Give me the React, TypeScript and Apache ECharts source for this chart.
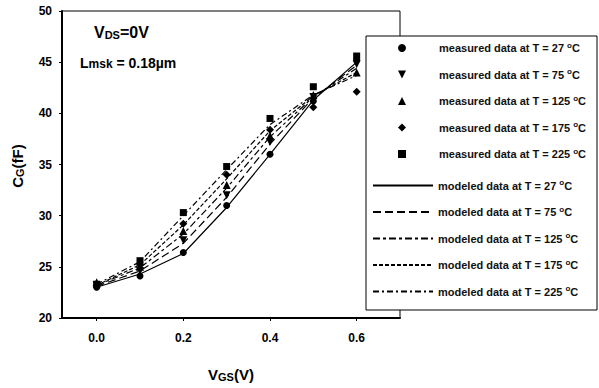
import React, { useEffect, useRef } from "react";
import * as echarts from "echarts";

const vgs = [0.0, 0.1, 0.2, 0.3, 0.4, 0.5, 0.6];
const temps = [27, 75, 125, 175, 225];

const measured27 = [23.0, 24.1, 26.4, 31.0, 36.0, 41.2, 45.2];
const measured75 = [23.2, 24.6, 27.6, 32.0, 37.2, 41.6, 44.8];
const measured125 = [23.5, 25.0, 28.5, 33.0, 37.8, 41.8, 44.0];
const measured175 = [23.2, 25.2, 29.2, 34.0, 38.4, 40.6, 42.1];
const measured225 = [23.3, 25.6, 30.3, 34.8, 39.5, 42.6, 45.6];

const modeled27 = [23.0, 24.3, 26.3, 30.8, 36.0, 41.3, 45.0];
const modeled75 = [23.1, 24.6, 27.3, 31.8, 37.0, 41.5, 44.7];
const modeled125 = [23.2, 24.9, 28.2, 32.7, 37.7, 41.6, 44.4];
const modeled175 = [23.2, 25.2, 29.1, 33.6, 38.3, 41.7, 44.0];
const modeled225 = [23.3, 25.5, 30.0, 34.5, 38.9, 41.8, 43.7];

const xTickValues = [0.0, 0.2, 0.4, 0.6];

const measuredSets = [measured27, measured75, measured125, measured175, measured225];
const modeledSets = [modeled27, modeled75, modeled125, modeled175, modeled225];

const measuredSymbols = [
  "circle",
  "path://M0,0 L10,0 L5,10 Z",
  "triangle",
  "diamond",
  "rect",
];
const measuredSizes = [7, 8, 8, 8, 7];
const modeledDash: any[] = ["solid", [8, 4], [7, 3, 3, 3], [4, 2], [6, 3, 2, 3]];

const FONT = "'Liberation Sans Narrow', 'Liberation Sans', Arial, sans-serif";

export default function App() {
  const ref = useRef<HTMLDivElement>(null);
  useEffect(() => {
    if (!ref.current) return;
    const chart = echarts.init(ref.current, undefined, { renderer: "svg" });

    const measuredNames = temps.map((t) => `measured data at T = ${t} °C`);
    const modeledNames = temps.map((t) => `modeled data at T = ${t} °C`);

    const series: any[] = [];
    modeledSets.forEach((vals, i) => {
      series.push({
        name: modeledNames[i],
        type: "line",
        data: vgs.map((x, j) => [x, vals[j]]),
        symbol: "none",
        showSymbol: false,
        lineStyle: { color: "#000", width: 1.2, type: modeledDash[i] },
        itemStyle: { color: "#000" },
        z: 2,
      });
    });
    measuredSets.forEach((vals, i) => {
      series.push({
        name: measuredNames[i],
        type: "scatter",
        data: vgs.map((x, j) => [x, vals[j]]),
        symbol: measuredSymbols[i],
        symbolSize: measuredSizes[i],
        symbolKeepAspect: true,
        itemStyle: { color: "#000", opacity: 1 },
        z: 3,
      });
    });

    const richBase = {
      sup: {
        fontFamily: FONT,
        fontWeight: "bold",
        fontSize: 8,
        lineHeight: 8,
        verticalAlign: "top",
        color: "#111",
      },
      sp: { width: 28, height: 1 },
    };
    const legendText = {
      fontFamily: FONT,
      fontWeight: "bold",
      fontSize: 11,
      color: "#111",
      lineHeight: 14,
      rich: richBase,
    };
    const fmt = (name: string) => name.replace(" °C", " {sup|o}C");
    const fmtMeasured = (name: string) => "{sp|}" + fmt(name);

    const option: any = {
      animation: false,
      backgroundColor: "#fff",
      grid: {
        left: 62,
        top: 11,
        right: 199,
        bottom: 70,
        show: true,
        borderColor: "#000",
        borderWidth: 1,
      },
      xAxis: {
        type: "value",
        min: -0.08,
        max: 0.7,
        splitLine: { show: false },
        axisLine: { onZero: false, lineStyle: { color: "#000", width: 2 } },
        axisTick: {
          show: true,
          length: 3,
          customValues: xTickValues,
          lineStyle: { color: "#000" },
        },
        axisLabel: {
          customValues: xTickValues,
          formatter: (v: number) => v.toFixed(1),
          fontFamily: FONT,
          fontWeight: "bold",
          fontSize: 12,
          color: "#000",
          margin: 14,
        },
      },
      yAxis: {
        type: "value",
        min: 20,
        max: 50,
        interval: 5,
        splitLine: { show: false },
        axisLine: { show: true, onZero: false, lineStyle: { color: "#000", width: 2 } },
        axisTick: { show: true, length: 3, lineStyle: { color: "#000" } },
        axisLabel: {
          fontFamily: FONT,
          fontWeight: "bold",
          fontSize: 12,
          color: "#000",
          margin: 10,
        },
      },
      legend: [
        {
          data: measuredNames,
          orient: "vertical",
          left: 398,
          top: 41,
          padding: 0,
          itemWidth: 8,
          itemHeight: 8,
          itemGap: 12.5,
          itemStyle: { opacity: 1 },
          formatter: fmtMeasured,
          textStyle: legendText,
          selectedMode: false,
          z: 5,
        },
        {
          data: modeledNames,
          orient: "vertical",
          left: 372,
          top: 178.5,
          padding: 0,
          itemWidth: 60,
          itemHeight: 8,
          itemGap: 12.5,
          itemStyle: { opacity: 0 },
          formatter: fmt,
          textStyle: legendText,
          selectedMode: false,
          z: 5,
        },
      ],
      graphic: [
        {
          type: "rect",
          z: 4,
          shape: { x: 366, y: 36, width: 231, height: 274 },
          style: { fill: "#fff", stroke: "#000", lineWidth: 1 },
        },
        {
          type: "text",
          z: 6,
          left: 94,
          top: 24,
          style: {
            text: "{b|V}{s|DS}{b|=0V}",
            rich: {
              b: { fontFamily: FONT, fontWeight: "bold", fontSize: 16, color: "#000", lineHeight: 20, verticalAlign: "bottom" },
              s: { fontFamily: FONT, fontWeight: "bold", fontSize: 11, color: "#000", lineHeight: 20, verticalAlign: "bottom" },
            },
          },
        },
        {
          type: "text",
          z: 6,
          left: 80,
          top: 56,
          style: {
            text: "{b|L}{s|msk}{b| = 0.18µm}",
            rich: {
              b: { fontFamily: FONT, fontWeight: "bold", fontSize: 14, color: "#000", lineHeight: 20, verticalAlign: "bottom" },
              s: { fontFamily: FONT, fontWeight: "bold", fontSize: 12, color: "#000", lineHeight: 20, verticalAlign: "bottom" },
            },
          },
        },
        {
          type: "text",
          z: 6,
          x: 16,
          y: 166,
          rotation: Math.PI / 2,
          style: {
            text: "{b|C}{s|G}{b|(fF)}",
            align: "center",
            verticalAlign: "middle",
            rich: {
              b: { fontFamily: FONT, fontWeight: "bold", fontSize: 15, color: "#000", lineHeight: 18, verticalAlign: "bottom" },
              s: { fontFamily: FONT, fontWeight: "bold", fontSize: 11, color: "#000", lineHeight: 18, verticalAlign: "bottom" },
            },
          },
        },
        {
          type: "text",
          z: 6,
          x: 231,
          y: 372,
          style: {
            text: "{b|V}{s|GS}{b|(V)}",
            align: "center",
            verticalAlign: "middle",
            rich: {
              b: { fontFamily: FONT, fontWeight: "bold", fontSize: 15, color: "#000", lineHeight: 20, verticalAlign: "bottom" },
              s: { fontFamily: FONT, fontWeight: "bold", fontSize: 11, color: "#000", lineHeight: 20, verticalAlign: "bottom" },
            },
          },
        },
      ],
      series,
    };
    chart.setOption(option);
    return () => chart.dispose();
  }, []);

  return <div ref={ref} style={{ width: 599, height: 388, position: "absolute", left: 0, top: 0 }} />;
}
